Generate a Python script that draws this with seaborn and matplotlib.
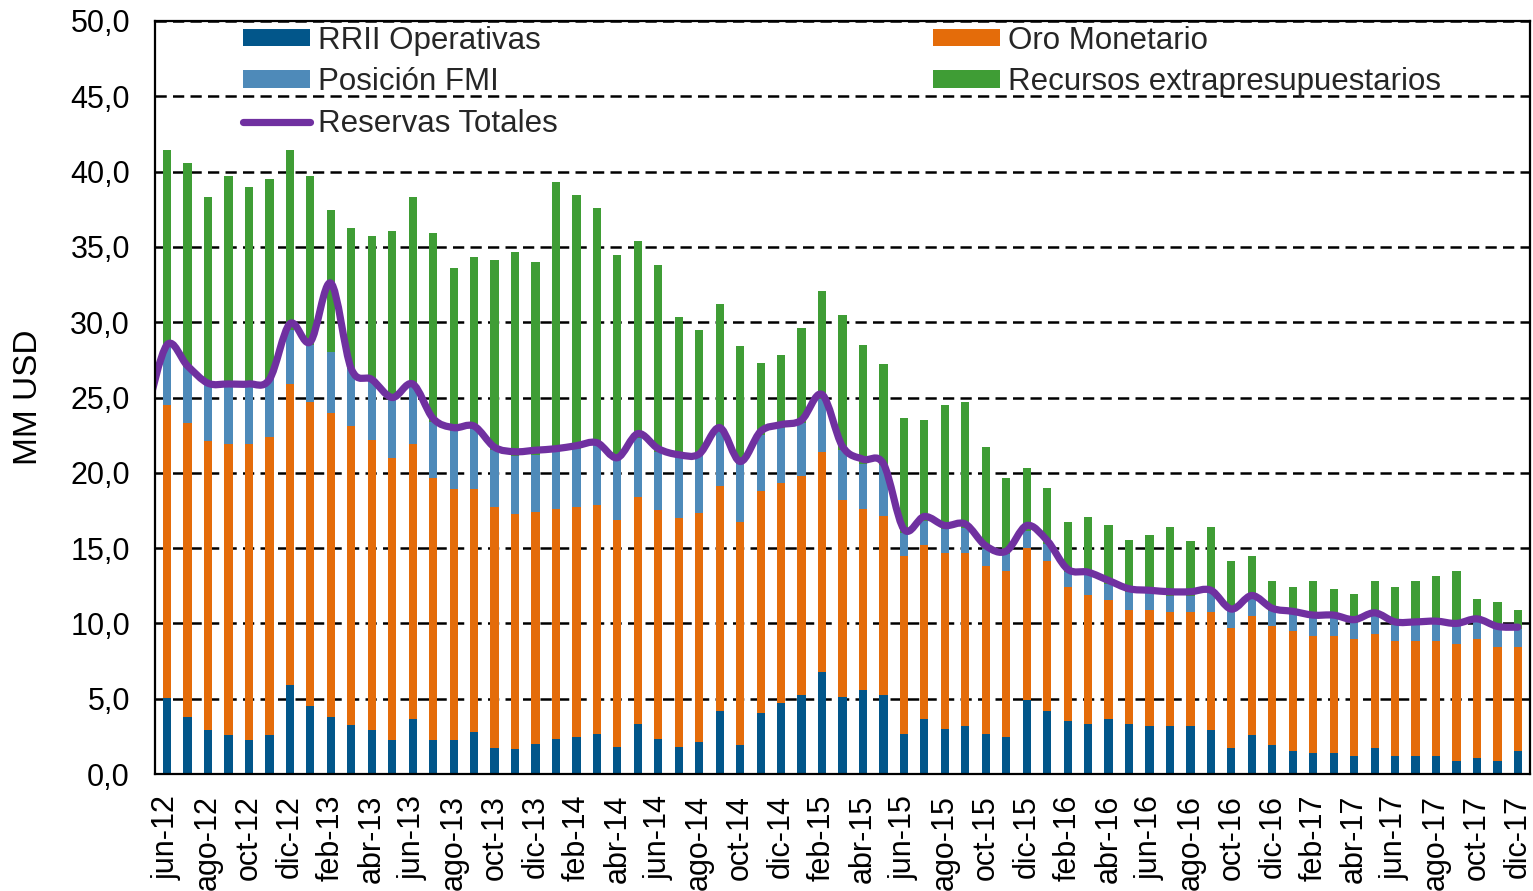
import numpy as np
import pandas as pd
import matplotlib
matplotlib.use("Agg")
import matplotlib.pyplot as plt
from matplotlib.path import Path
from matplotlib.patches import PathPatch, Patch
from matplotlib.lines import Line2D
from matplotlib.ticker import FuncFormatter
import seaborn as sns

# ---------------- data ----------------
month_names = ["ene", "feb", "mar", "abr", "may", "jun", "jul", "ago", "sep", "oct", "nov", "dic"]
months = [f"{m}-{y}" for y in range(12, 18) for m in month_names][5:]  # jun-12 .. dic-17

rrii_operativas = [5.03, 3.80, 2.93, 2.58, 2.25, 2.58, 5.90, 4.50, 3.80, 3.26, 2.93, 2.23, 3.64, 2.23, 2.23, 2.77,
                   1.71, 1.63, 1.97, 2.34, 2.47, 2.65, 1.76, 3.34, 2.34, 1.76, 2.13, 4.20, 1.94, 4.05, 4.73, 5.25,
                   6.80, 5.10, 5.60, 5.24, 2.64, 3.67, 2.98, 3.16, 2.64, 2.47, 4.90, 4.20, 3.50, 3.30, 3.67, 3.30,
                   3.16, 3.16, 3.16, 2.92, 1.74, 2.61, 1.92, 1.54, 1.40, 1.40, 1.20, 1.72, 1.20, 1.20, 1.20, 0.85,
                   1.03, 0.85, 1.52]
oro_monetario = [19.47, 19.50, 19.17, 19.32, 19.65, 19.82, 20.00, 20.20, 20.20, 19.84, 19.27, 18.77, 18.26, 17.41,
                 16.70, 16.16, 15.99, 15.62, 15.43, 15.26, 15.23, 15.22, 15.08, 15.06, 15.21, 15.24, 15.23, 14.93,
                 14.76, 14.71, 14.57, 14.55, 14.60, 13.10, 12.00, 11.86, 11.86, 11.53, 11.69, 11.51, 11.16, 10.99,
                 10.10, 9.96, 8.94, 8.60, 7.89, 7.56, 7.70, 7.59, 7.59, 7.83, 7.94, 7.91, 7.90, 7.96, 7.74, 7.74,
                 7.76, 7.58, 7.60, 7.60, 7.60, 7.75, 7.93, 7.60, 6.93]
posicion_fmi = [3.90, 3.70, 3.70, 3.90, 3.90, 3.80, 3.60, 3.80, 4.00, 3.80, 4.00, 4.00, 4.00, 3.76, 3.82, 3.97,
                3.80, 3.85, 3.80, 3.80, 3.90, 4.03, 4.06, 3.90, 3.85, 4.00, 3.74, 3.67, 3.90, 3.74, 3.70, 3.50,
                3.50, 3.30, 3.00, 3.40, 1.50, 1.60, 1.58, 1.68, 1.15, 1.14, 1.15, 1.10, 0.96, 1.30, 1.04, 1.21,
                1.14, 1.10, 1.10, 1.25, 1.12, 1.18, 1.03, 1.10, 1.21, 1.21, 1.09, 1.20, 1.10, 1.15, 1.20, 1.25,
                1.14, 1.15, 1.15]
recursos_extrapresupuestarios = [13.04, 13.57, 12.50, 13.90, 13.20, 13.30, 11.94, 11.20, 9.45, 9.35, 9.50, 11.06,
                                 12.40, 12.50, 10.85, 11.40, 12.66, 13.55, 12.80, 17.90, 16.85, 15.70, 13.56, 13.06,
                                 12.38, 9.34, 8.37, 8.40, 7.80, 4.80, 4.80, 6.30, 7.17, 9.00, 7.90, 6.70, 7.67, 6.70,
                                 8.25, 8.35, 6.75, 5.04, 4.18, 3.70, 3.34, 3.87, 3.94, 3.46, 3.90, 4.52, 3.65, 4.40,
                                 3.35, 2.80, 1.95, 1.85, 2.45, 1.95, 1.90, 2.30, 2.55, 2.85, 3.15, 3.60, 1.50, 1.85,
                                 1.30]
# Reservas Totales (line); first value is may-12, just before the first bar
reservas_labels = ["may-12"] + months
reservas_totales = [24.0, 28.5, 27.1, 25.95, 25.9, 25.9, 26.2, 29.9, 28.7, 32.6, 26.9, 26.2, 25.0, 25.9, 23.6,
                    23.0, 23.1, 21.7, 21.4, 21.5, 21.6, 21.8, 22.0, 21.0, 22.6, 21.6, 21.2, 21.25, 23.0, 20.75,
                    22.75, 23.2, 23.5, 25.2, 21.75, 20.9, 20.6, 16.25, 17.1, 16.5, 16.6, 15.15, 14.8, 16.5, 15.5,
                    13.6, 13.4, 12.85, 12.3, 12.2, 12.1, 12.1, 12.2, 10.95, 11.85, 11.0, 10.8, 10.55, 10.55, 10.25,
                    10.7, 10.1, 10.1, 10.15, 10.0, 10.3, 9.8, 9.75]

series_names = ["RRII Operativas", "Oro Monetario", "Posición FMI", "Recursos extrapresupuestarios"]
line_name = "Reservas Totales"
y_ticks = [0, 5, 10, 15, 20, 25, 30, 35, 40, 45, 50]

# ---------------- style ----------------
c_rrii = "#02568A"
c_oro = "#E46C0A"
c_fmi = "#4E8AB9"
c_rec = "#3F9D35"
c_line = "#7030A0"

sns.set_theme(style="white")
plt.rcParams["font.family"] = ["Liberation Sans", "DejaVu Sans"]
FS_TICK = 22
FS_LEG = 22.5
FS_LAB = 24

fig = plt.figure(figsize=(15.33, 8.91), dpi=100)
ax = fig.add_axes([155 / 1533, 1 - 774 / 891, 1375 / 1533, 753 / 891])

df = pd.DataFrame({"mes": months, "rrii": rrii_operativas, "oro": oro_monetario,
                   "fmi": posicion_fmi, "rec": recursos_extrapresupuestarios})
df["c1"] = df["rrii"]
df["c2"] = df["c1"] + df["oro"]
df["c3"] = df["c2"] + df["fmi"]
df["c4"] = df["c3"] + df["rec"]

for col, color in [("c4", c_rec), ("c3", c_fmi), ("c2", c_oro), ("c1", c_rrii)]:
    sns.barplot(data=df, x="mes", y=col, order=months, color=color, saturation=1,
                width=0.4, errorbar=None, linewidth=0, ax=ax, zorder=2)

# smoothed line (Excel-like smoothing via Bezier segments through the data points)
xs = np.arange(len(reservas_totales)) - 1.0
ys = np.array(reservas_totales, dtype=float)
verts = [(xs[0], ys[0])]
codes = [Path.MOVETO]
n = len(xs)
for i in range(n - 1):
    p0 = np.array([xs[i - 1], ys[i - 1]]) if i > 0 else np.array([xs[i], ys[i]])
    p1 = np.array([xs[i], ys[i]])
    p2 = np.array([xs[i + 1], ys[i + 1]])
    p3 = np.array([xs[i + 2], ys[i + 2]]) if i + 2 < n else p2
    c1 = p1 + (p2 - p0) / 6.0
    c2 = p2 - (p3 - p1) / 6.0
    verts += [tuple(c1), tuple(c2), tuple(p2)]
    codes += [Path.CURVE4] * 3
patch = PathPatch(Path(verts, codes), facecolor="none", edgecolor=c_line, lw=5.2,
                  capstyle="round", joinstyle="round", zorder=4)
ax.add_patch(patch)

# axes
ax.set_xlim(-0.59, len(months) - 1 + 0.59)
ax.set_ylim(0, 50)
ax.set_yticks(y_ticks)
ax.yaxis.set_major_formatter(FuncFormatter(lambda v, p: f"{v:.1f}".replace(".", ",")))
ax.set_xticks(range(0, len(months), 2))
ax.set_xticklabels(months[::2], rotation=90)
ax.tick_params(axis="x", length=0, pad=15, labelsize=FS_TICK, colors="black")
ax.tick_params(axis="y", length=0, pad=18, labelsize=FS_TICK, colors="black")
ax.set_xlabel("")
ax.set_ylabel("MM USD", fontsize=FS_LAB, color="black")
ax.yaxis.set_label_coords(-0.081, 0.5)

ax.set_axisbelow(True)
ax.yaxis.grid(True, color="black", linestyle=(0, (4.5, 2.5)), linewidth=1.8)
ax.xaxis.grid(False)
for s in ax.spines.values():
    s.set_visible(True)
    s.set_color("black")
    s.set_linewidth(1.6)
    s.set_zorder(5)

handles = [Patch(facecolor=c_rrii, edgecolor="none"),
           Patch(facecolor=c_fmi, edgecolor="none"),
           Line2D([0], [0], color=c_line, lw=5.2, solid_capstyle="round"),
           Patch(facecolor=c_oro, edgecolor="none"),
           Patch(facecolor=c_rec, edgecolor="none")]
labels = [series_names[0], series_names[2], line_name, series_names[1], series_names[3]]
ax.legend(handles, labels, ncol=2, loc="upper left", bbox_to_anchor=(0.064, 0.994),
          frameon=False, fontsize=FS_LEG, borderpad=0, borderaxespad=0, handlelength=2.15,
          handleheight=0.48, handletextpad=0.26, labelspacing=0.375, columnspacing=12.0)

fig.savefig("out.png", dpi=100)
